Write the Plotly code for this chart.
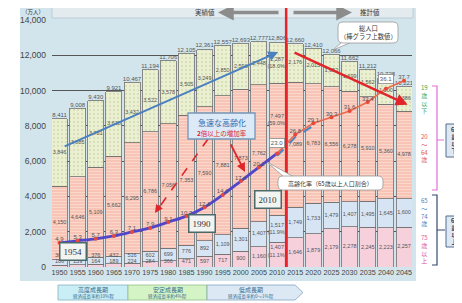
import plotly.graph_objects as go

# ---------------- data ----------------
years = [1950, 1955, 1960, 1965, 1970, 1975, 1980, 1985, 1990, 1995,
         2000, 2005, 2010, 2015, 2020, 2025, 2030, 2035, 2040, 2045]
total = [8411, 9008, 9430, 9921, 10467, 11194, 11706, 12105, 12361, 12557,
         12693, 12777, 12806, 12660, 12410, 12066, 11662, 11212, 10728, 10221]
age_0_19 = [3846, 3885, 3781, 3638, 3432, 3522, 3578, 3505, 3249, 2850,
            2596, 2448, 2287, 2176, 2015, 1852, 1699, 1562, 1500, 1386]
age_20_64 = [4150, 4646, 5109, 5662, 6295, 6786, 7056, 7353, 7590, 7881,
             7873, 7762, 7497, 7089, 6783, 6556, 6278, 5910, 5360, 4978]
age_65_74 = [309, 338, 376, 432, 516, 602, 699, 776, 892, 1109,
             1301, 1407, 1517, 1749, 1733, 1479, 1407, 1495, 1645, 1600]
age_75_up = [106, 139, 164, 189, 224, 284, 366, 471, 597, 717,
             900, 1160, 1407, 1646, 1879, 2179, 2278, 2245, 2223, 2257]
aging_rate = [4.9, 5.3, 5.7, 6.3, 7.1, 7.9, 9.1, 10.3, 12.1, 14.6,
              17.4, 20.2, 23.0, 26.8, 29.1, 30.3, 31.6, 33.4, 36.1, 37.7]
pct_2010 = ["18.0%", "59.0%", "11.9%", "11.1%"]   # 0-19, 20-64, 65-74, 75+
y_ticks = [0, 2000, 4000, 6000, 8000, 10000, 12000, 14000]
last_actual = 2010

# ---------------- geometry helpers (reference pixels -> paper) ----------------
# the page body adds an 8px margin, so the figure is 8px smaller than the window
PAGE_OFF = 8
W, H = 462 - PAGE_OFF, 303 - PAGE_OFF
L, T = 52 - PAGE_OFF, 20 - PAGE_OFF
PW, PH = 360, 247
R, B = W - L - PW, H - T - PH


def px(x):
    return (x - 52) / PW


def py(y):
    return (267 - y) / PH


JP = "Noto Sans CJK JP"
NUM = "Liberation Sans"
TXT = "#444444"

fig = go.Figure()

# ---------------- stacked bars ----------------
bar_w = 4.4
outline = dict(color="#707070", width=0.8)
fig.add_bar(x=years, y=age_75_up, width=bar_w, marker=dict(color="#f6d0db", line=outline),
            hoverinfo="skip")
fig.add_bar(x=years, y=age_65_74, width=bar_w, marker=dict(color="#d7e4f3", line=outline),
            hoverinfo="skip")
fig.add_bar(x=years, y=age_20_64, width=bar_w,
            marker=dict(color="#f8cbbf", line=outline,
                        pattern=dict(shape="-", bgcolor="#f7c4b6", fgcolor="#fde9e3",
                                     size=3, solidity=0.35)),
            hoverinfo="skip")
fig.add_bar(x=years, y=age_0_19, width=bar_w,
            marker=dict(color="#e9efd0", line=outline,
                        pattern=dict(shape=".", bgcolor="#ebf0d3", fgcolor="#c4ce96",
                                     size=4, solidity=0.25)),
            hoverinfo="skip")

# ---------------- segment labels ----------------
def fmt(v):
    return f"{v:,}"


mid75, mid65, mid20, mid19 = [], [], [], []
t75, t65, t20, t19 = [], [], [], []
for i, yr in enumerate(years):
    a, b, c, d = age_75_up[i], age_65_74[i], age_20_64[i], age_0_19[i]
    is_last = yr == last_actual
    mid75.append(max(a * (0.62 if is_last else 0.5), 280))
    mid65.append(max(a + b / 2, 640))
    mid20.append(a + b + c * (0.72 if is_last else 0.5))
    mid19.append(a + b + c + d / 2)
    extra = (lambda k: f"<br>({pct_2010[k]})") if is_last else (lambda k: "")
    t19.append(fmt(d) + extra(0))
    t20.append(fmt(c) + extra(1))
    t65.append(fmt(b) + extra(2))
    t75.append(fmt(a) + extra(3))

for ys, ts in [(mid75, t75), (mid65, t65), (mid20, t20), (mid19, t19)]:
    fig.add_scatter(x=years, y=ys, text=ts, mode="text",
                    textfont=dict(size=5.5, color="#555", family=NUM),
                    hoverinfo="skip")

# totals above bars
fig.add_scatter(x=years, y=total, text=[fmt(v) for v in total], mode="text",
                textposition="top center",
                textfont=dict(size=6, color="#555", family=NUM), hoverinfo="skip")

# ---------------- aging-rate line (secondary axis 0-50%) ----------------
ia = years.index(last_actual)
fig.add_scatter(x=years[:ia + 1], y=aging_rate[:ia + 1], yaxis="y2", mode="lines",
                line=dict(color="#5146c8", width=2.8, shape="spline"), hoverinfo="skip")
fig.add_scatter(x=years[ia:ia + 3], y=[v - 0.5 for v in aging_rate[ia:ia + 3]], yaxis="y2",
                mode="lines", line=dict(color="#4f86c6", width=2.2, dash="dash"),
                hoverinfo="skip")
fig.add_scatter(x=years[ia:], y=aging_rate[ia:], yaxis="y2", mode="lines",
                line=dict(color="#ea6a50", width=1.6), hoverinfo="skip")
fig.add_scatter(x=years, y=aging_rate, yaxis="y2", mode="markers",
                marker=dict(color="#e8473c", size=4), hoverinfo="skip")
boxed = [years.index(2010), years.index(2040)]
fig.add_scatter(x=[y for k, y in enumerate(years) if k not in boxed],
                y=[v for k, v in enumerate(aging_rate) if k not in boxed],
                text=[f"{v:.1f}" for k, v in enumerate(aging_rate) if k not in boxed],
                yaxis="y2", mode="text", textposition="top center",
                textfont=dict(size=6, color="#555", family=NUM), hoverinfo="skip")

annotations = []
for k in boxed:
    annotations.append(dict(x=years[k], y=aging_rate[k], xref="x", yref="y2",
                            text=f"{aging_rate[k]:.1f}", showarrow=False, yshift=10,
                            xanchor="center", yanchor="middle",
                            font=dict(size=6, color="#555", family=NUM),
                            bgcolor="white", bordercolor="#888", borderwidth=0.8, borderpad=1))


def note(x, y, text, size, color, family=JP, **kw):
    d = dict(x=px(x), y=py(y), xref="paper", yref="paper", text=text, showarrow=False,
             xanchor="center", yanchor="middle",
             font=dict(size=size, color=color, family=family))
    d.update(kw)
    return d


def arrow(x, y, ax, ay, color, width, size=1.0):
    return dict(x=px(x), y=py(y), xref="paper", yref="paper", ax=ax, ay=ay, text="",
                showarrow=True, arrowhead=2, arrowsize=size, arrowwidth=width,
                arrowcolor=color)


shapes = []

# ---------------- frame / header ----------------
shapes.append(dict(type="rect", xref="paper", yref="paper", layer="below",
                   x0=px(20), x1=px(416), y0=py(281), y1=py(5),
                   fillcolor="#d2e5ed", line=dict(width=0)))
shapes.append(dict(type="rect", xref="paper", yref="paper",
                   x0=px(52), x1=px(413), y0=py(18), y1=py(6),
                   fillcolor="#e3ebef", line=dict(color="#b5c6cf", width=0.8)))
annotations += [
    note(205, 12.5, "実績値", 6.5, "#333"),
    note(370, 12.5, "推計値", 6.5, "#333"),
    arrow(218, 12.5, 62, 0, "#8c8c8c", 3.5, 0.9),
    arrow(352, 12.5, -60, 0, "#8c8c8c", 3.5, 0.9),
    note(33, 11.6, "（万人）", 5.5, "#333"),
]

# red boundary line between actual and projected
shapes.append(dict(type="line", xref="x", yref="paper", x0=2012.5, x1=2012.5,
                   y0=0, y1=py(0), line=dict(color="#e8232a", width=2.5)))

# trend arrows
annotations += [
    dict(x=2010.3, y=12186, ax=1951, ay=6800, xref="x", yref="y", axref="x", ayref="y",
         text="", showarrow=True, arrowhead=2, arrowsize=1, arrowwidth=2, arrowcolor="#4a7fc0"),
    dict(x=2046, y=9200, ax=2014.4, ay=12186, xref="x", yref="y", axref="x", ayref="y",
         text="", showarrow=True, arrowhead=2, arrowsize=1, arrowwidth=2.4, arrowcolor="#e0262a"),
]


def rrect(x0, y0, x1, y1, r=4):
    a0, b0, a1, b1 = px(x0), py(y0), px(x1), py(y1)
    rx, ry = r / PW, r / PH
    return (f"M {a0+rx},{b0} L {a1-rx},{b0} Q {a1},{b0} {a1},{b0-ry} "
            f"L {a1},{b1+ry} Q {a1},{b1} {a1-rx},{b1} L {a0+rx},{b1} "
            f"Q {a0},{b1} {a0},{b1+ry} L {a0},{b0-ry} Q {a0},{b0} {a0+rx},{b0} Z")


def tri(p):
    pts = [f"{px(a)},{py(b)}" for a, b in p]
    return "M " + " L ".join(pts) + " Z"


# total population callout
shapes.append(dict(type="path", xref="paper", yref="paper", path=tri([(342, 42), (352, 42), (333, 50)]),
                   fillcolor="white", line=dict(color="#999", width=0.8)))
shapes.append(dict(type="path", xref="paper", yref="paper", path=rrect(338, 22, 398, 43, 5),
                   fillcolor="white", line=dict(color="#999", width=0.8)))
annotations.append(note(368, 32.5, "総人口<br>（棒グラフ上数値）", 6.3, "#333"))

# aging-rate callout
shapes.append(dict(type="path", xref="paper", yref="paper", path=tri([(267, 162), (284, 177), (294, 177)]),
                   fillcolor="white", line=dict(color="#999", width=0.8)))
shapes.append(dict(type="path", xref="paper", yref="paper", path=rrect(278, 176, 383, 190, 5),
                   fillcolor="white", line=dict(color="#999", width=0.8)))
annotations.append(note(330.5, 183, "高齢化率（65歳以上人口割合）", 6, "#333"))

# rapid aging box + arrows
shapes.append(dict(type="line", xref="paper", yref="paper", x0=px(208), y0=py(139),
                   x1=px(158), y1=py(209), line=dict(color="#e0262a", width=1.6, dash="dash")))
annotations += [
    arrow(155, 213, 6, -9, "#e0262a", 1.6),
    arrow(245, 172, -15, -29, "#e0262a", 1.8),
]
shapes.append(dict(type="rect", xref="paper", yref="paper", x0=px(188), x1=px(255),
                   y0=py(139), y1=py(113), fillcolor="#dce9f6",
                   line=dict(color="#7696b8", width=1.3)))
annotations += [
    note(221.5, 122, "急速な高齢化", 8, "#2f6db3"),
    note(221.5, 132.5, "<b>2</b>倍以上の増加率", 6.5, "#e0262a"),
]

# year boxes
for yr_txt, cx, cy in [("1954", 73, 251), ("1990", 202, 223), ("2010", 268, 199)]:
    annotations.append(note(cx, cy, yr_txt, 9, "#333", family="Liberation Serif",
                            bgcolor="#f2f4f2", bordercolor="#4b6b6b", borderwidth=1.5,
                            borderpad=3))

# ---------------- right legend ----------------
shapes.append(dict(type="path", xref="paper", yref="paper",
                   path=(f"M {px(432)},{py(86)} L {px(437)},{py(86)} L {px(437)},{py(190)} "
                         f"L {px(432)},{py(190)} M {px(437)},{py(140)} L {px(444)},{py(140)}"),
                   line=dict(color="#e070d8", width=1.2)))
shapes.append(dict(type="path", xref="paper", yref="paper",
                   path=(f"M {px(432)},{py(195)} L {px(437)},{py(195)} L {px(437)},{py(265)} "
                         f"L {px(432)},{py(265)} M {px(437)},{py(230)} L {px(445)},{py(230)}"),
                   line=dict(color="#34496e", width=1.2)))
shapes.append(dict(type="rect", xref="paper", yref="paper", x0=px(446), x1=px(466),
                   y0=py(157), y1=py(124), fillcolor="#dde8f3", line=dict(color="#506c90", width=1)))
shapes.append(dict(type="rect", xref="paper", yref="paper", x0=px(446), x1=px(466),
                   y0=py(247), y1=py(216), fillcolor="#dde8f3", line=dict(color="#506c90", width=1)))
annotations += [
    note(424, 99, "19<br>歳<br>以<br>下", 6, "#3aa655"),
    note(424, 148, "20<br>～<br>64<br>歳", 6, "#e05555"),
    note(424, 212, "65<br>～<br>74<br>歳", 6, "#4a7fc0"),
    note(424, 249, "75<br>歳<br>以<br>上", 6, "#e0559a"),
    note(454, 140.5, "<b>65<br>歳<br>以<br>下</b>", 5.5, "#333"),
    note(454, 231.5, "<b>65<br>歳<br>以<br>上</b>", 5.5, "#333"),
]

# ---------------- economic period boxes ----------------
shapes.append(dict(type="rect", xref="paper", yref="paper", x0=px(58), x1=px(128),
                   y0=py(300), y1=py(285), fillcolor="#c9eef6", line=dict(color="#86b3c2", width=0.8)))
shapes.append(dict(type="rect", xref="paper", yref="paper", x0=px(128), x1=px(207),
                   y0=py(300), y1=py(285), fillcolor="#d5f4c6", line=dict(color="#93bf86", width=0.8)))
shapes.append(dict(type="path", xref="paper", yref="paper",
                   path=tri([(207, 285), (295, 285), (303, 292.5), (295, 300), (207, 300)]),
                   fillcolor="#dce9f5", line=dict(color="#86a3c2", width=0.8)))
for cx, t1, t2 in [(93, "高度成長期", "経済成長率約10%程"),
                   (167.5, "安定成長期", "経済成長率約4%程"),
                   (251, "低成長期", "経済成長率約0～1%程")]:
    annotations.append(note(cx, 289.5, t1, 6, "#3a6f90"))
    annotations.append(note(cx, 296.5, t2, 4.5, "#3a6f90"))

# ---------------- layout ----------------
fig.update_layout(
    width=W, height=H, margin=dict(l=L, r=R, t=T, b=B, autoexpand=False),
    barmode="stack", showlegend=False,
    paper_bgcolor="white", plot_bgcolor="white",
    font=dict(family=NUM, color=TXT),
    xaxis=dict(range=[1947.93, 2047.2], tickvals=years, ticktext=[str(y) for y in years],
               tickfont=dict(size=7.2, color=TXT), showgrid=False, zeroline=False,
               ticks="", fixedrange=True),
    yaxis=dict(range=[0, 14000], tickvals=y_ticks, ticktext=[f"{v:,}" for v in y_ticks],
               tickfont=dict(size=8.5, color=TXT), showgrid=True, gridcolor="#555",
               gridwidth=1, zeroline=False, ticks="", ticklabelstandoff=5),
    yaxis2=dict(range=[0, 50], overlaying="y", visible=False),
    shapes=shapes, annotations=annotations,
)

fig.write_html("out.html")
